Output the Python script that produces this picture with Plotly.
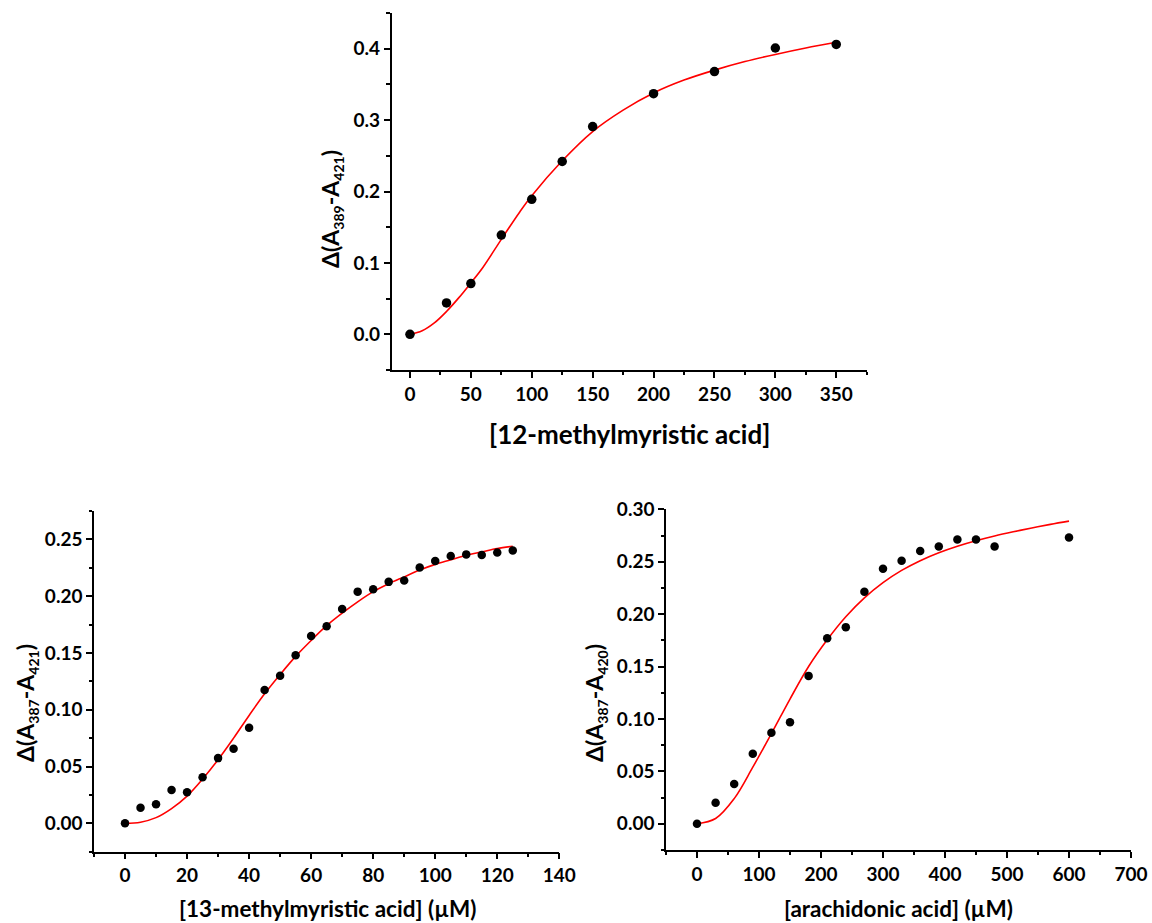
import plotly.graph_objects as go

W, H = 1152, 923

# ---- Data: 12-methylmyristic acid ----
x12 = [0, 30, 50, 75, 100, 125, 150, 200, 250, 300, 350]
y12 = [0.0, 0.044, 0.071, 0.139, 0.189, 0.242, 0.291, 0.337, 0.368, 0.401, 0.406]
fit12_x = [0, 10, 20, 30, 40, 50, 60, 75, 90, 100, 125, 150, 175, 200, 225, 250, 275, 300, 325, 350]
fit12_y = [0.0, 0.005, 0.016, 0.032, 0.051, 0.072, 0.094, 0.133, 0.171, 0.194, 0.243, 0.284, 0.314, 0.338,
           0.356, 0.370, 0.382, 0.392, 0.401, 0.409]

# ---- Data: 13-methylmyristic acid ----
x13 = [0, 5, 10, 15, 20, 25, 30, 35, 40, 45, 50, 55, 60, 65, 70, 75, 80, 85, 90, 95, 100, 105, 110, 115, 120, 125]
y13 = [0.0, 0.0138, 0.0168, 0.0294, 0.0274, 0.0406, 0.0574, 0.0656, 0.0841, 0.1174, 0.130, 0.148, 0.165, 0.1735,
       0.1888, 0.204, 0.206, 0.2126, 0.2138, 0.2253, 0.2309, 0.2353, 0.2368, 0.2362, 0.2385, 0.2403]
fit13_x = [0, 5, 10, 15, 20, 25, 30, 35, 40, 45, 50, 55, 60, 65, 70, 75, 80, 85, 90, 95, 100, 105, 110, 115, 120, 125]
fit13_y = [0.0, 0.001, 0.005, 0.013, 0.024, 0.039, 0.056, 0.075, 0.095, 0.114, 0.131, 0.147, 0.161, 0.174, 0.185,
           0.195, 0.204, 0.211, 0.217, 0.223, 0.228, 0.232, 0.236, 0.239, 0.242, 0.244]

# ---- Data: arachidonic acid ----
xar = [0, 30, 60, 90, 120, 150, 180, 210, 240, 270, 300, 330, 360, 390, 420, 450, 480, 600]
yar = [0.0, 0.0201, 0.0379, 0.0669, 0.0869, 0.0968, 0.1411, 0.1771, 0.1876, 0.2213, 0.2433, 0.251, 0.2602,
       0.2646, 0.2713, 0.2713, 0.2646, 0.2732]
fitar_x = [0, 30, 60, 90, 120, 150, 180, 210, 240, 270, 300, 330, 360, 390, 420, 450, 480, 510, 540, 570, 600]
fitar_y = [0.0, 0.005, 0.024, 0.054, 0.086, 0.119, 0.150, 0.1755, 0.1975, 0.2155, 0.2300, 0.2417, 0.2510,
           0.2586, 0.2648, 0.2700, 0.2745, 0.2785, 0.2822, 0.2856, 0.2887]

FONT = "Lato"

fig = go.Figure()

def add_panel(xs, ys, fx, fy, xa, ya, msize):
    fig.add_trace(go.Scatter(x=fx, y=fy, mode="lines",
                             line=dict(color="#ff0000", width=1.6, shape="spline", smoothing=1.0),
                             xaxis=xa, yaxis=ya, showlegend=False, hoverinfo="skip"))
    fig.add_trace(go.Scatter(x=xs, y=ys, mode="markers", marker=dict(color="black", size=msize),
                             xaxis=xa, yaxis=ya, showlegend=False))

add_panel(x12, y12, fit12_x, fit12_y, "x", "y", 9.5)
add_panel(x13, y13, fit13_x, fit13_y, "x2", "y2", 8.5)
add_panel(xar, yar, fitar_x, fitar_y, "x3", "y3", 8.5)

def px_dom(a, b):
    return [a / W, b / W]

def py_dom(top, bottom):
    return [1 - bottom / H, 1 - top / H]

tickfont = dict(family=FONT, size=19, color="black", weight="bold")

def axis(domain, rng, dtick, minor_dtick, anchor, fmt=None):
    d = dict(domain=domain, range=rng, dtick=dtick, tick0=0, anchor=anchor,
             automargin=False,
             showline=True, linecolor="black", linewidth=1.5, mirror=False,
             showgrid=False, zeroline=False,
             ticks="outside", ticklen=6, tickwidth=1.5, tickcolor="black",
             tickfont=tickfont,
             minor=dict(ticks="outside", ticklen=3.5, tickwidth=1.5, tickcolor="black",
                        dtick=minor_dtick, tick0=0, showgrid=False))
    if fmt:
        d["tickformat"] = fmt
    return d

fig.update_layout(
    template="none",
    width=W, height=H,
    margin=dict(l=0, r=0, t=0, b=0, pad=0),
    paper_bgcolor="white", plot_bgcolor="white",
    xaxis=axis(px_dom(391.7, 866.7), [-15, 375], 50, 25, "y"),
    yaxis=axis(py_dom(13, 370), [-0.05, 0.45], 0.1, 0.05, "x", ".1f"),
    xaxis2=axis(px_dom(94, 559.3), [-10, 140], 20, 10, "y2"),
    yaxis2=axis(py_dom(511, 851.7), [-0.025, 0.275], 0.05, 0.025, "x2", ".2f"),
    xaxis3=axis(px_dom(666, 1131), [-50, 700], 100, 50, "y3"),
    yaxis3=axis(py_dom(509.3, 850), [-0.025, 0.30], 0.05, 0.025, "x3", ".2f"),
)

toptitle = dict(family=FONT, size=26, color="black", weight="bold")
bottitle = dict(family=FONT, size=22.5, color="black", weight="bold")
ytitlefont = dict(family=FONT, size=23, color="black", weight="bold")

def ann(text, cx, cy, font, angle=0):
    fig.add_annotation(text=text, x=cx / W, y=1 - cy / H, xref="paper", yref="paper",
                       showarrow=False, textangle=angle, xanchor="center", yanchor="middle",
                       font=font)

def sub(s):
    return "<sub><span style='font-size:14px'>" + s + "</span></sub>"

ann("[12-methylmyristic acid]", 629, 434, toptitle)
ann("[13-methylmyristic acid] (µM)", 327, 908, bottitle)
ann("[arachidonic acid] (µM)", 898, 908, bottitle)
ann("Δ(A" + sub("389") + "-A" + sub("421") + ")", 331, 209, ytitlefont, -90)
ann("Δ(A" + sub("387") + "-A" + sub("421") + ")", 26, 703, ytitlefont, -90)
ann("Δ(A" + sub("387") + "-A" + sub("420") + ")", 595, 703, ytitlefont, -90)

fig.write_html("out.html")
